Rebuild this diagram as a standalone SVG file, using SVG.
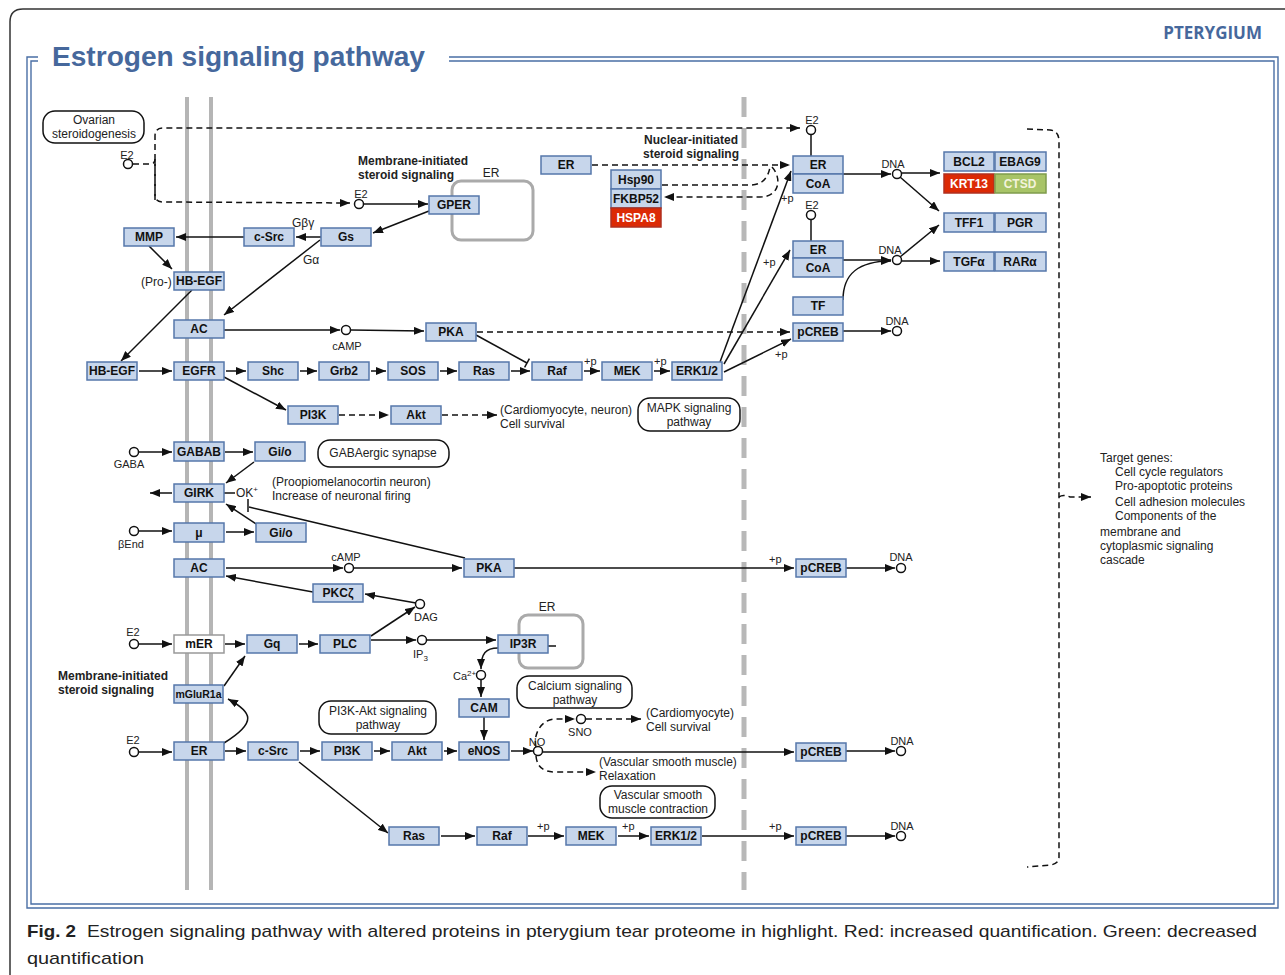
<svg xmlns="http://www.w3.org/2000/svg" width="1285" height="975" viewBox="0 0 1285 975">
<defs>
<style>
.b{fill:#c7d6eb;stroke:#5577ab;stroke-width:1.5}
.r{fill:#dc2a05;stroke:#b03020;stroke-width:1.5}
.g{fill:#a8c467;stroke:#7f9c4c;stroke-width:1.5}
.w{fill:#fff;stroke:#999;stroke-width:1.5}
.t{font-family:"Liberation Sans",Arial,sans-serif;font-weight:bold;font-size:12px;text-anchor:middle;fill:#111}
.tw{fill:#fff}
.s{font-family:"Liberation Sans",Arial,sans-serif;font-size:11px;fill:#222}
.s12{font-family:"Liberation Sans",Arial,sans-serif;font-size:12px;fill:#222}
.bl{font-family:"Liberation Sans",Arial,sans-serif;font-size:12px;font-weight:bold;fill:#222}
.m{text-anchor:middle}
.c{fill:#fff;stroke:#111;stroke-width:1.5}
.l{fill:none;stroke:#111;stroke-width:1.5}
.d{stroke-dasharray:6 4}
.p{fill:#fff;stroke:#111;stroke-width:1.5}
.cmp{fill:none;stroke:#aaa;stroke-width:3}
.fr{fill:none;stroke:#4a6fa5;stroke-width:1.4}
.cap{font-family:"Liberation Sans",Arial,sans-serif;font-size:17px;fill:#222}
</style>
<marker id="a" markerWidth="10" markerHeight="8" refX="10" refY="4" orient="auto" markerUnits="userSpaceOnUse"><path d="M0,0 L10,4 L0,8 z" fill="#111"/></marker>
</defs>
<rect width="1285" height="975" fill="#fff"/>
<!-- page frame -->
<path d="M10,975 L10,22 Q10,9 23,9 L1285,9" fill="none" stroke="#333" stroke-width="1.5"/>
<text x="1262" y="39" font-family="'Open Sans','Liberation Sans',sans-serif" font-weight="bold" font-size="17" fill="#46689c" text-anchor="end">PTERYGIUM</text>
<!-- blue frame -->
<path class="fr" d="M38,57 L27,57 L27,908 L1278,908 L1278,57 L449,57"/>
<path class="fr" d="M38,61 L31,61 L31,904 L1274,904 L1274,61 L449,61"/>
<text x="52" y="66" font-family="'Liberation Sans',Arial,sans-serif" font-weight="bold" font-size="27" fill="#46689c" textLength="373" lengthAdjust="spacingAndGlyphs">Estrogen signaling pathway</text>
<!-- caption -->
<text class="cap" x="27" y="937" font-weight="bold" textLength="49" lengthAdjust="spacingAndGlyphs">Fig. 2</text>
<text class="cap" x="87" y="937" textLength="1170" lengthAdjust="spacingAndGlyphs">Estrogen signaling pathway with altered proteins in pterygium tear proteome in highlight. Red: increased quantification. Green: decreased</text>
<text class="cap" x="27" y="964" textLength="117" lengthAdjust="spacingAndGlyphs">quantification</text>

<!-- membranes -->
<g id="membranes">
<line x1="187" y1="97" x2="187" y2="890" stroke="#b5b5b5" stroke-width="4"/>
<line x1="211" y1="97" x2="211" y2="890" stroke="#b5b5b5" stroke-width="4"/>
<line x1="744" y1="97" x2="744" y2="890" stroke="#b8b8b8" stroke-width="5" stroke-dasharray="20 11"/>
</g>
<!-- ER compartments -->
<g id="er-compartment-1"><rect class="cmp" x="452" y="181" width="81" height="59" rx="9"/><text class="s12 m" x="491" y="177">ER</text></g>
<g id="er-compartment-2"><rect class="cmp" x="519" y="615" width="64" height="53" rx="9"/><text class="s12 m" x="547" y="611">ER</text></g>

<!-- connectors -->
<g id="connectors">
<g class="l" marker-end="url(#a)">
<path d="M364,204 L428,204"/>
<path d="M429,211 L373,233"/>
<path d="M321,237 L296,237"/>
<path d="M244,237 L176,237"/>
<path d="M320,240 L224,315"/>
<path d="M149,246 L172,269"/>
<path d="M192,290 L121,361"/>
<path d="M224,330 L340,330"/>
<path d="M351,330 L424,331"/>
<path d="M139,371 L172,371"/>
<path d="M226,371 L246,371"/>
<path d="M300,371 L317,371"/>
<path d="M371,371 L386,371"/>
<path d="M440,371 L457,371"/>
<path d="M511,371 L530,371"/>
<path d="M584,371 L600,371"/>
<path d="M654,371 L670,371"/>
<path d="M224,377 L286,410"/>
<path d="M720,362 L791,171"/>
<path d="M724,364 L790,250"/>
<path d="M724,372 L791,339"/>
<path d="M843,174 L891,174"/>
<path d="M902,173 L940,173"/>
<path d="M900,177 L939,211"/>
<path d="M843,260 L891,260"/>
<path d="M843,300 C843,274 858,261 891,261"/>
<path d="M900,257 L939,225"/>
<path d="M902,261 L940,261"/>
<path d="M843,331 L891,331"/>
<path d="M139,452 L172,452"/>
<path d="M225,452 L253,452"/>
<path d="M254,462 L226,483"/>
<path d="M172,493 L150,493"/>
<path d="M139,531 L172,531"/>
<path d="M226,532 L254,532"/>
<path d="M256,524 L226,504"/>
<path d="M226,568 L343,568"/>
<path d="M354,568 L462,568"/>
<path d="M514,568 L794,568"/>
<path d="M846,568 L895,568"/>
<path d="M313,592 L226,576"/>
<path d="M416,603 L365,594"/>
<path d="M371,636 L415,607"/>
<path d="M139,644 L172,644"/>
<path d="M225,644 L245,644"/>
<path d="M299,644 L318,644"/>
<path d="M371,640 L416,640"/>
<path d="M427,640 L496,640"/>
<path d="M498,648 C486,648 481,653 481,669"/>
<path d="M481,680 L481,697"/>
<path d="M484,717 L484,740"/>
<path d="M224,686 L245,656"/>
<path d="M224,743 C258,722 252,712 228,699"/>
<path d="M139,752 L172,752"/>
<path d="M225,751 L246,751"/>
<path d="M300,751 L320,751"/>
<path d="M374,751 L390,751"/>
<path d="M444,751 L457,751"/>
<path d="M511,751 L533,751"/>
<path d="M543,752 L794,752"/>
<path d="M846,751 L895,751"/>
<path d="M299,762 L388,833"/>
<path d="M441,836 L475,836"/>
<path d="M528,836 L564,836"/>
<path d="M618,836 L649,836"/>
<path d="M702,836 L794,836"/>
<path d="M846,836 L895,836"/>
</g>
<g class="l">
<path d="M811,134 L811,156"/>
<path d="M811,219 L811,241"/>
<path d="M476,335 L527,363"/>
<path d="M524.6,367.4 L529.4,358.6"/>
<path d="M465,558 L249,507"/>
<path d="M248,499 L248,512"/>
<path d="M224,493 L235,493"/>
<path d="M548,646 L556,646"/>
</g>
<g class="l d">
<path d="M133,164 L150,164 Q155,164 155,159"/>
<path d="M155,200 L155,136 Q155,128 163,128 L800,128" marker-end="url(#a)"/>
<path d="M155,160 L155,195 Q155,202 163,202 L350,203" marker-end="url(#a)"/>
<path d="M477,332 L790,332" marker-end="url(#a)"/>
<path d="M592,165 L790,165" marker-end="url(#a)"/>
<path d="M662,185 L752,185 Q767,184 770,167"/>
<path d="M772,167 C782,178 780,197 760,197 L664,197" marker-end="url(#a)"/>
<path d="M339,415 L389,415" marker-end="url(#a)"/>
<path d="M442,415 L497,415" marker-end="url(#a)"/>
<path d="M536,747 C533,736 540,719 556,719 L575,719" marker-end="url(#a)"/>
<path d="M586,719 L641,719" marker-end="url(#a)"/>
<path d="M536,756 C537,767 543,772 556,772 L596,772" marker-end="url(#a)"/>
<path d="M1027,129 L1050,130 Q1059,131 1059,141 L1059,857 Q1059,864 1050,865 L1027,867"/>
<path d="M1059,497 Q1063,494 1070,497 L1091,497" marker-end="url(#a)"/>
</g>
</g>

<!-- compounds -->
<g id="compounds">
<g id="c-e2-ov"><circle class="c" cx="128" cy="164" r="4.5"/><text class="s m" x="127" y="159">E2</text></g>
<g id="c-e2-gper"><circle class="c" cx="359" cy="204" r="4.5"/><text class="s m" x="361" y="198">E2</text></g>
<g id="c-e2-n1"><circle class="c" cx="811" cy="130" r="4.5"/><text class="s m" x="812" y="124">E2</text></g>
<g id="c-e2-n2"><circle class="c" cx="811" cy="215" r="4.5"/><text class="s m" x="812" y="209">E2</text></g>
<g id="c-dna1"><circle class="c" cx="897" cy="174" r="4.5"/><text class="s m" x="893" y="168">DNA</text></g>
<g id="c-dna2"><circle class="c" cx="897" cy="260" r="4.5"/><text class="s m" x="890" y="254">DNA</text></g>
<g id="c-dna3"><circle class="c" cx="897" cy="331" r="4.5"/><text class="s m" x="897" y="325">DNA</text></g>
<g id="c-camp1"><circle class="c" cx="346" cy="330" r="4.5"/><text class="s m" x="347" y="350">cAMP</text></g>
<g id="c-gaba"><circle class="c" cx="134" cy="452" r="4.5"/><text class="s m" x="129" y="468">GABA</text></g>
<g id="c-bend"><circle class="c" cx="134" cy="531" r="4.5"/><text class="s m" x="131" y="548">βEnd</text></g>
<g id="c-camp2"><circle class="c" cx="349" cy="568" r="4.5"/><text class="s m" x="346" y="561">cAMP</text></g>
<g id="c-dna4"><circle class="c" cx="901" cy="568" r="4.5"/><text class="s m" x="901" y="561">DNA</text></g>
<g id="c-dag"><circle class="c" cx="420" cy="604" r="4.5"/><text class="s m" x="426" y="621">DAG</text></g>
<g id="c-e2-mer"><circle class="c" cx="134" cy="644" r="4.5"/><text class="s m" x="133" y="636">E2</text></g>
<g id="c-ip3"><circle class="c" cx="422" cy="640" r="4.5"/><text class="s" x="413" y="658">IP<tspan font-size="8" dy="3">3</tspan></text></g>
<g id="c-ca"><circle class="c" cx="481" cy="675" r="4.5"/><text class="s" x="453" y="680">Ca<tspan font-size="8" dy="-4">2+</tspan></text></g>
<g id="c-e2-er"><circle class="c" cx="134" cy="752" r="4.5"/><text class="s m" x="133" y="744">E2</text></g>
<g id="c-no"><circle class="c" cx="538" cy="751" r="4.5"/><text class="s m" x="537" y="746">NO</text></g>
<g id="c-sno"><circle class="c" cx="581" cy="719" r="4.5"/><text class="s m" x="580" y="736">SNO</text></g>
<g id="c-dna5"><circle class="c" cx="901" cy="751" r="4.5"/><text class="s m" x="902" y="745">DNA</text></g>
<g id="c-dna6"><circle class="c" cx="901" cy="836" r="4.5"/><text class="s m" x="902" y="830">DNA</text></g>
</g>

<!-- nodes -->
<g id="mmp"><rect class="b" x="124" y="228" width="50" height="18"/><text class="t" x="149" y="241">MMP</text></g>
<g id="csrc1"><rect class="b" x="244" y="228" width="50" height="18"/><text class="t" x="269" y="241">c-Src</text></g>
<g id="gs"><rect class="b" x="321" y="228" width="50" height="18"/><text class="t" x="346" y="241">Gs</text></g>
<g id="gper"><rect class="b" x="429" y="196" width="50" height="18"/><text class="t" x="454" y="209">GPER</text></g>
<g id="hbegf-pro"><rect class="b" x="174" y="272" width="50" height="18"/><text class="t" x="199" y="285">HB-EGF</text></g>
<g id="ac1"><rect class="b" x="174" y="320" width="50" height="18"/><text class="t" x="199" y="333">AC</text></g>
<g id="pka1"><rect class="b" x="426" y="323" width="50" height="18"/><text class="t" x="451" y="336">PKA</text></g>
<g id="hbegf"><rect class="b" x="87" y="362" width="50" height="18"/><text class="t" x="112" y="375">HB-EGF</text></g>
<g id="egfr"><rect class="b" x="174" y="362" width="50" height="18"/><text class="t" x="199" y="375">EGFR</text></g>
<g id="shc"><rect class="b" x="248" y="362" width="50" height="18"/><text class="t" x="273" y="375">Shc</text></g>
<g id="grb2"><rect class="b" x="319" y="362" width="50" height="18"/><text class="t" x="344" y="375">Grb2</text></g>
<g id="sos"><rect class="b" x="388" y="362" width="50" height="18"/><text class="t" x="413" y="375">SOS</text></g>
<g id="ras1"><rect class="b" x="459" y="362" width="50" height="18"/><text class="t" x="484" y="375">Ras</text></g>
<g id="raf1"><rect class="b" x="532" y="362" width="50" height="18"/><text class="t" x="557" y="375">Raf</text></g>
<g id="mek1"><rect class="b" x="602" y="362" width="50" height="18"/><text class="t" x="627" y="375">MEK</text></g>
<g id="erk1"><rect class="b" x="672" y="362" width="50" height="18"/><text class="t" x="697" y="375">ERK1/2</text></g>
<g id="pi3k1"><rect class="b" x="288" y="406" width="50" height="18"/><text class="t" x="313" y="419">PI3K</text></g>
<g id="akt1"><rect class="b" x="391" y="406" width="50" height="18"/><text class="t" x="416" y="419">Akt</text></g>
<g id="er-cyt"><rect class="b" x="541" y="156" width="50" height="18"/><text class="t" x="566" y="169">ER</text></g>
<g id="hsp90"><rect class="b" x="611" y="170" width="50" height="19"/><text class="t" x="636" y="184">Hsp90</text></g>
<g id="fkbp52"><rect class="b" x="611" y="189" width="50" height="19"/><text class="t" x="636" y="203">FKBP52</text></g>
<g id="hspa8"><rect class="r" x="611" y="208" width="50" height="19"/><text class="t tw" x="636" y="222">HSPA8</text></g>
<g id="er-coa1"><rect class="b" x="793" y="156" width="50" height="18"/><text class="t" x="818" y="169">ER</text><rect class="b" x="793" y="174" width="50" height="19"/><text class="t" x="818" y="188">CoA</text></g>
<g id="er-coa2"><rect class="b" x="793" y="241" width="50" height="17"/><text class="t" x="818" y="254">ER</text><rect class="b" x="793" y="258" width="50" height="19"/><text class="t" x="818" y="272">CoA</text></g>
<g id="tf"><rect class="b" x="793" y="297" width="50" height="18"/><text class="t" x="818" y="310">TF</text></g>
<g id="pcreb1"><rect class="b" x="793" y="323" width="50" height="18"/><text class="t" x="818" y="336">pCREB</text></g>
<g id="bcl2"><rect class="b" x="944" y="152" width="50" height="19"/><text class="t" x="969" y="166">BCL2</text></g>
<g id="ebag9"><rect class="b" x="995" y="152" width="51" height="19"/><text class="t" x="1020" y="166">EBAG9</text></g>
<g id="krt13"><rect class="r" x="944" y="174" width="50" height="19"/><text class="t tw" x="969" y="188">KRT13</text></g>
<g id="ctsd"><rect class="g" x="995" y="174" width="51" height="19"/><text class="t" x="1020" y="188" style="fill:#f3f3dc">CTSD</text></g>
<g id="tff1"><rect class="b" x="944" y="213" width="50" height="19"/><text class="t" x="969" y="227">TFF1</text></g>
<g id="pgr"><rect class="b" x="995" y="213" width="51" height="19"/><text class="t" x="1020" y="227">PGR</text></g>
<g id="tgfa"><rect class="b" x="944" y="252" width="50" height="19"/><text class="t" x="969" y="266">TGFα</text></g>
<g id="rara"><rect class="b" x="995" y="252" width="51" height="19"/><text class="t" x="1020" y="266">RARα</text></g>
<g id="gabab"><rect class="b" x="174" y="442" width="50" height="19"/><text class="t" x="199" y="456">GABAB</text></g>
<g id="gio1"><rect class="b" x="255" y="442" width="50" height="19"/><text class="t" x="280" y="456">Gi/o</text></g>
<g id="girk"><rect class="b" x="174" y="484" width="50" height="18"/><text class="t" x="199" y="497">GIRK</text></g>
<g id="mu"><rect class="b" x="174" y="523" width="50" height="19"/><text class="t" x="199" y="537">μ</text></g>
<g id="gio2"><rect class="b" x="256" y="523" width="50" height="19"/><text class="t" x="281" y="537">Gi/o</text></g>
<g id="ac2"><rect class="b" x="174" y="559" width="50" height="18"/><text class="t" x="199" y="572">AC</text></g>
<g id="pka2"><rect class="b" x="464" y="559" width="50" height="18"/><text class="t" x="489" y="572">PKA</text></g>
<g id="pcreb2"><rect class="b" x="796" y="559" width="50" height="18"/><text class="t" x="821" y="572">pCREB</text></g>
<g id="pkcz"><rect class="b" x="313" y="584" width="50" height="18"/><text class="t" x="338" y="597">PKCζ</text></g>
<g id="mer"><rect class="w" x="174" y="635" width="50" height="18"/><text class="t" x="199" y="648">mER</text></g>
<g id="gq"><rect class="b" x="247" y="635" width="50" height="18"/><text class="t" x="272" y="648">Gq</text></g>
<g id="plc"><rect class="b" x="320" y="635" width="50" height="18"/><text class="t" x="345" y="648">PLC</text></g>
<g id="ip3r"><rect class="b" x="498" y="635" width="50" height="18"/><text class="t" x="523" y="648">IP3R</text></g>
<g id="cam"><rect class="b" x="459" y="699" width="50" height="18"/><text class="t" x="484" y="712">CAM</text></g>
<g id="mglur1a"><rect class="b" x="174" y="685" width="49" height="18"/><text class="t" x="198.5" y="698" style="font-size:10.5px">mGluR1a</text></g>
<g id="er-b"><rect class="b" x="174" y="742" width="50" height="18"/><text class="t" x="199" y="755">ER</text></g>
<g id="csrc2"><rect class="b" x="248" y="742" width="50" height="18"/><text class="t" x="273" y="755">c-Src</text></g>
<g id="pi3k2"><rect class="b" x="322" y="742" width="50" height="18"/><text class="t" x="347" y="755">PI3K</text></g>
<g id="akt2"><rect class="b" x="392" y="742" width="50" height="18"/><text class="t" x="417" y="755">Akt</text></g>
<g id="enos"><rect class="b" x="459" y="742" width="50" height="18"/><text class="t" x="484" y="755">eNOS</text></g>
<g id="pcreb3"><rect class="b" x="796" y="743" width="50" height="18"/><text class="t" x="821" y="756">pCREB</text></g>
<g id="ras2"><rect class="b" x="389" y="827" width="50" height="18"/><text class="t" x="414" y="840">Ras</text></g>
<g id="raf2"><rect class="b" x="477" y="827" width="50" height="18"/><text class="t" x="502" y="840">Raf</text></g>
<g id="mek2"><rect class="b" x="566" y="827" width="50" height="18"/><text class="t" x="591" y="840">MEK</text></g>
<g id="erk2"><rect class="b" x="651" y="827" width="50" height="18"/><text class="t" x="676" y="840">ERK1/2</text></g>
<g id="pcreb4"><rect class="b" x="796" y="827" width="50" height="18"/><text class="t" x="821" y="840">pCREB</text></g>

<!-- pathway maps -->
<g id="map-ovarian"><rect class="p" x="43" y="111" width="101" height="32" rx="12"/><text class="s12 m" x="94" y="124">Ovarian</text><text class="s12 m" x="94" y="138">steroidogenesis</text></g>
<g id="map-gaba"><rect class="p" x="318" y="440" width="131" height="27" rx="12"/><text class="s12 m" x="383" y="457">GABAergic synapse</text></g>
<g id="map-mapk"><rect class="p" x="638" y="398" width="102" height="33" rx="12"/><text class="s12 m" x="689" y="412">MAPK signaling</text><text class="s12 m" x="689" y="426">pathway</text></g>
<g id="map-pi3k"><rect class="p" x="319" y="701" width="117" height="33" rx="12"/><text class="s12 m" x="378" y="715">PI3K-Akt signaling</text><text class="s12 m" x="378" y="729">pathway</text></g>
<g id="map-calcium"><rect class="p" x="517" y="676" width="115" height="32" rx="12"/><text class="s12 m" x="575" y="690">Calcium signaling</text><text class="s12 m" x="575" y="704">pathway</text></g>
<g id="map-vsmc"><rect class="p" x="600" y="786" width="115" height="32" rx="12"/><text class="s12 m" x="658" y="799">Vascular smooth</text><text class="s12 m" x="658" y="813">muscle contraction</text></g>

<!-- labels -->
<g id="labels">
<text class="bl" x="358" y="165">Membrane-initiated</text>
<text class="bl" x="358" y="179">steroid signaling</text>
<text class="bl m" x="691" y="144">Nuclear-initiated</text>
<text class="bl m" x="691" y="158">steroid signaling</text>
<text class="bl" x="58" y="680">Membrane-initiated</text>
<text class="bl" x="58" y="694">steroid signaling</text>
<text class="s12" x="292" y="227">Gβγ</text>
<text class="s12" x="303" y="264">Gα</text>
<text class="s12" x="141" y="286">(Pro-)</text>
<text class="s" x="584" y="365">+p</text>
<text class="s" x="654" y="365">+p</text>
<text class="s" x="781" y="202">+p</text>
<text class="s" x="763" y="266">+p</text>
<text class="s" x="775" y="358">+p</text>
<text class="s" x="769" y="563">+p</text>
<text class="s" x="537" y="830">+p</text>
<text class="s" x="622" y="830">+p</text>
<text class="s" x="769" y="830">+p</text>
<text class="s12" x="500" y="414">(Cardiomyocyte, neuron)</text>
<text class="s12" x="500" y="428">Cell survival</text>
<text class="s12" x="236" y="497">OK<tspan font-size="8" dy="-5">+</tspan></text>
<text class="s12" x="272" y="486">(Proopiomelanocortin neuron)</text>
<text class="s12" x="272" y="500">Increase of neuronal firing</text>
<text class="s12" x="646" y="717">(Cardiomyocyte)</text>
<text class="s12" x="646" y="731">Cell survival</text>
<text class="s12" x="599" y="766">(Vascular smooth muscle)</text>
<text class="s12" x="599" y="780">Relaxation</text>
<text class="s12" x="1100" y="462">Target genes:</text>
<text class="s12" x="1115" y="476">Cell cycle regulators</text>
<text class="s12" x="1115" y="490">Pro-apoptotic proteins</text>
<text class="s12" x="1115" y="506">Cell adhesion molecules</text>
<text class="s12" x="1115" y="520">Components of the</text>
<text class="s12" x="1100" y="536">membrane and</text>
<text class="s12" x="1100" y="550">cytoplasmic signaling</text>
<text class="s12" x="1100" y="564">cascade</text>
</g>
</svg>
